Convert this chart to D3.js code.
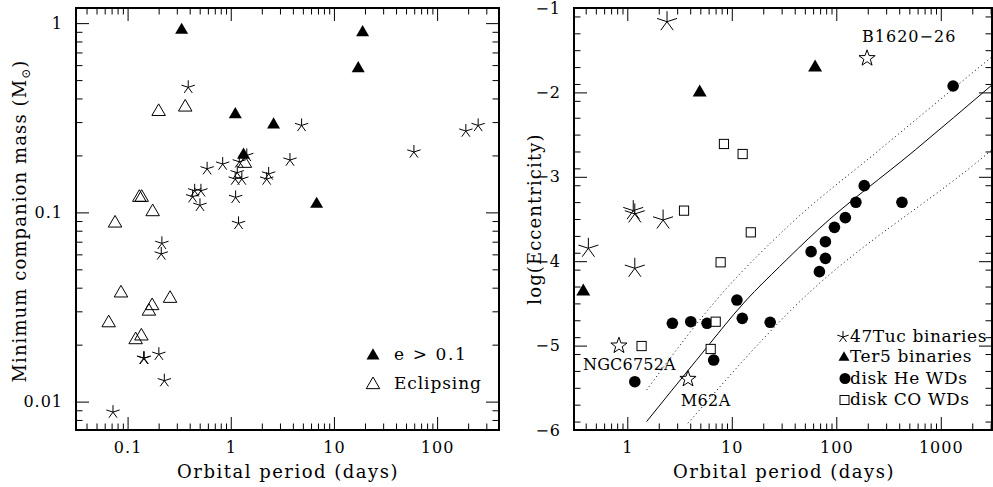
<!DOCTYPE html>
<html><head><meta charset="utf-8">
<script src="https://cdn.jsdelivr.net/npm/d3@7"></script>
<style>body{margin:0;background:#fff}</style>
</head><body>
<svg id="c" width="993" height="487" style="display:block;background:#fff"></svg>
<script>
// ---------------- DATA ----------------
// Left panel
const leftXTicks = [0.1, 1, 10, 100];
const leftXTickLabels = ["0.1", "1", "10", "100"];
const leftYTicks = [0.01, 0.1, 1];
const leftYTickLabels = ["0.01", "0.1", "1"];
// e > 0.1 (filled triangles)
const eccP = [0.334, 18.97, 17.2, 1.107, 2.60, 1.33, 6.8];
const eccM = [0.927, 0.90, 0.581, 0.332, 0.293, 0.203, 0.1116];
// Eclipsing (open triangles)
const eclP = [0.200, 0.362, 1.37, 0.137, 0.130, 0.175, 0.0756, 0.0863, 0.0656, 0.258, 0.173, 0.161, 0.136, 0.1197];
const eclM = [0.344, 0.363, 0.183, 0.121, 0.121, 0.1016, 0.0885, 0.0378, 0.0263, 0.0354, 0.0324, 0.0303, 0.0224, 0.0214];
// other binaries (asterisks)
const binP = [0.387, 4.86, 250, 190, 59.6, 1.43, 3.75, 0.835, 0.59, 1.21, 1.156, 1.105, 1.28, 2.33, 2.23, 1.115, 1.19, 0.447, 0.514, 0.427, 0.503, 0.215, 0.212, 0.143, 0.145, 0.201, 0.227, 0.0722];
const binM = [0.458, 0.288, 0.288, 0.269, 0.2085, 0.20, 0.189, 0.180, 0.170, 0.185, 0.162, 0.150, 0.150, 0.1596, 0.150, 0.120, 0.0875, 0.130, 0.130, 0.121, 0.109, 0.0686, 0.0603, 0.01695, 0.01695, 0.0178, 0.0129, 0.0088];
const leftLegend = ["e > 0.1", "Eclipsing"];

// Right panel
const rightXTicks = [1, 10, 100, 1000];
const rightXTickLabels = ["1", "10", "100", "1000"];
const rightYTicks = [-6, -5, -4, -3, -2, -1];
const rightYTickLabels = ["\u22126", "\u22125", "\u22124", "\u22123", "\u22122", "\u22121"];
const tucP = [2.40, 1.14, 1.18, 2.20, 0.424, 1.18];
const tucE = [-1.162, -3.401, -3.44, -3.512, -3.847, -4.084];
const ter5P = [4.93, 62.7, 0.379];
const ter5E = [-1.991, -1.695, -4.349];
const heP = [1312, 185, 154, 425, 122, 96, 78.7, 57.4, 78.7, 68.9, 11.2, 12.6, 2.70, 4.05, 5.80, 23.3, 6.71, 1.18];
const heE = [-1.924, -3.105, -3.302, -3.302, -3.484, -3.599, -3.769, -3.887, -3.966, -4.124, -4.460, -4.677, -4.736, -4.717, -4.736, -4.724, -5.171, -5.428];
const coP = [8.41, 12.7, 3.49, 15.2, 7.82, 7.01, 6.28, 1.37];
const coE = [-2.611, -2.730, -3.401, -3.658, -4.013, -4.717, -5.040, -5.005];
const psrNames = ["B1620\u221226", "NGC6752A", "M62A"];
const psrP = [197, 0.832, 3.81];
const psrE = [-1.596, -5.001, -5.396];
// relation and its band
const fitP = [1.53, 4.58, 13.8, 28.6, 66.4, 569, 3090];
const fitE = [-5.90, -5.174, -4.460, -4.065, -3.630, -2.682, -1.912];
const upperP = [1.53, 7.11, 35.6, 258, 3090];
const upperE = [-5.526, -4.460, -3.571, -2.682, -1.577];
const lowerP = [3.81, 39.8, 2692, 3090];
const lowerE = [-5.92, -4.539, -2.742, -2.68];
const rightLegend = ["47Tuc binaries", "Ter5 binaries", "disk He WDs", "disk CO WDs"];

// ---------------- DRAWING ----------------
const FONT = '"DejaVu Serif", "Liberation Serif", serif';
const FS = 16;
const svg = d3.select("#c");

function triPath(s) { // s = width
  const h = s * 0.86;
  return `M0,${-h*0.6}L${s/2},${h*0.4}L${-s/2},${h*0.4}Z`;
}
function asteriskPath(r) {
  let p = "";
  for (let k = 0; k < 5; k++) {
    const a = (-90 + 72 * k) * Math.PI / 180;
    p += `M0,0L${(r*Math.cos(a)).toFixed(2)},${(r*Math.sin(a)).toFixed(2)}`;
  }
  return p;
}
function starPath(R) {
  const r = R * 0.40;
  const pts = [];
  for (let k = 0; k < 10; k++) {
    const a = (-90 + 36 * k) * Math.PI / 180;
    const rr = k % 2 === 0 ? R : r;
    pts.push([rr*Math.cos(a), rr*Math.sin(a)]);
  }
  return "M" + pts.map(p => p[0].toFixed(2) + "," + p[1].toFixed(2)).join("L") + "Z";
}
function minorLog(domain) {
  const out = [];
  const lo = Math.floor(Math.log10(domain[0])), hi = Math.ceil(Math.log10(domain[1]));
  for (let e = lo; e <= hi; e++) for (let m = 2; m <= 9; m++) {
    const v = m * Math.pow(10, e);
    if (v >= domain[0] && v <= domain[1]) out.push(v);
  }
  return out;
}

function frameAxes(g, x, y, xT, xL, yT, yL, xMin, yMin) {
  const [xa, xb] = x.range();
  const [yb, ya] = y.range();
  function mk(fn, scale, vals, size, labels, tr) {
    const a = fn(scale).tickValues(vals).tickSizeInner(-size).tickSizeOuter(0);
    if (labels) a.tickFormat((d, i) => labels[i]).tickPadding(labels === yL ? 13 : 12);
    else a.tickFormat("");
    const ag = g.append("g").attr("transform", tr).call(a);
    ag.select(".domain").remove();
    ag.selectAll("line").attr("stroke", "#000").attr("stroke-width", 1);
    ag.selectAll("text").style("font-family", FONT).style("font-size", FS + "px")
      .style("letter-spacing", "1px").attr("fill", "#000");
    ag.attr("font-family", null).attr("font-size", null);
  }
  mk(d3.axisBottom, x, xT, 13, xL, `translate(0,${yb})`);
  mk(d3.axisBottom, x, xMin, 6.5, null, `translate(0,${yb})`);
  mk(d3.axisTop, x, xT, 13, null, `translate(0,${ya})`);
  mk(d3.axisTop, x, xMin, 6.5, null, `translate(0,${ya})`);
  mk(d3.axisLeft, y, yT, 13, yL, `translate(${xa},0)`);
  mk(d3.axisLeft, y, yMin, 6.5, null, `translate(${xa},0)`);
  mk(d3.axisRight, y, yT, 13, null, `translate(${xb},0)`);
  mk(d3.axisRight, y, yMin, 6.5, null, `translate(${xb},0)`);
  g.append("rect").attr("x", xa).attr("y", ya).attr("width", xb - xa).attr("height", yb - ya)
    .attr("fill", "none").attr("stroke", "#000").attr("stroke-width", 2);
}

function text(g, x, y, s, anchor, size, ls) {
  return g.append("text").attr("x", x).attr("y", y).attr("text-anchor", anchor || "start")
    .style("font-family", FONT).style("font-size", (size || FS) + "px")
    .style("letter-spacing", (ls == null ? 0.6 : ls) + "px").attr("fill", "#000").text(s);
}

// ---- Left panel ----
const L = svg.append("g");
const xL = d3.scaleLog().domain([Math.pow(10, -1.5), Math.pow(10, 2.6)]).range([76, 499]);
const yL = d3.scaleLog().domain([Math.pow(10, -2.15), Math.pow(10, 0.08)]).range([430, 8]);
frameAxes(L, xL, yL, leftXTicks, leftXTickLabels, leftYTicks, leftYTickLabels,
  minorLog(xL.domain()), minorLog(yL.domain()));

L.selectAll("path.bin").data(binP).join("path")
  .attr("transform", (d, i) => `translate(${xL(d)},${yL(binM[i])})`)
  .attr("d", asteriskPath(7)).attr("stroke", "#000").attr("stroke-width", 1).attr("fill", "none");
L.selectAll("path.ecl").data(eclP).join("path")
  .attr("transform", (d, i) => `translate(${xL(d)},${yL(eclM[i])})`)
  .attr("d", triPath(13.5)).attr("stroke", "#000").attr("stroke-width", 1).attr("fill", "none");
L.selectAll("path.ecc").data(eccP).join("path")
  .attr("transform", (d, i) => `translate(${xL(d)},${yL(eccM[i])})`)
  .attr("d", triPath(13)).attr("fill", "#000");

// legend left
L.append("path").attr("transform", "translate(373,355)").attr("d", triPath(13)).attr("fill", "#000");
text(L, 394, 360, leftLegend[0], "start", 17, 1.6);
L.append("path").attr("transform", "translate(373,384)").attr("d", triPath(13.5)).attr("fill", "none").attr("stroke", "#000");
text(L, 394, 389, leftLegend[1], "start", 17, 0.9);

// axis titles
text(L, 288, 478, "Orbital period (days)", "middle", 18, 1.5);
const yt = L.append("text").attr("transform", "translate(26,221) rotate(-90)").attr("text-anchor", "middle")
  .style("font-family", FONT).style("font-size", "18px").style("letter-spacing", "1.1px").attr("fill", "#000");
yt.append("tspan").text("Minimum companion mass (M");
yt.append("tspan").attr("font-size", "12px").attr("dy", 4).text("\u2299");
yt.append("tspan").attr("dy", -4).text(")");

// ---- Right panel ----
const R = svg.append("g");
const xR = d3.scaleLog().domain([Math.pow(10, -0.51), Math.pow(10, 3.49)]).range([574, 992]);
const yR = d3.scaleLinear().domain([-6, -1]).range([430, 8]);
const yRMinor = d3.range(-59, -10, 2).map(v => v / 10).filter(v => Math.abs(v - Math.round(v)) > 1e-6);
frameAxes(R, xR, yR, rightXTicks, rightXTickLabels, rightYTicks, rightYTickLabels,
  minorLog(xR.domain()), yRMinor);

svg.append("defs").append("clipPath").attr("id", "rc").append("rect")
  .attr("x", 574).attr("y", 8).attr("width", 418).attr("height", 422);
const line = d3.line().x(d => xR(d[0])).y(d => yR(d[1])).curve(d3.curveMonotoneX);
const lines = R.append("g").attr("clip-path", "url(#rc)");
lines.append("path").attr("d", line(fitP.map((p, i) => [p, fitE[i]])))
  .attr("fill", "none").attr("stroke", "#000").attr("stroke-width", 1);
lines.append("path").attr("d", line(upperP.map((p, i) => [p, upperE[i]])))
  .attr("fill", "none").attr("stroke", "#000").attr("stroke-width", 1).attr("stroke-dasharray", "1,3");
lines.append("path").attr("d", line(lowerP.map((p, i) => [p, lowerE[i]])))
  .attr("fill", "none").attr("stroke", "#000").attr("stroke-width", 1).attr("stroke-dasharray", "1,3");

R.selectAll("path.tuc").data(tucP).join("path")
  .attr("transform", (d, i) => `translate(${xR(d)},${yR(tucE[i])})`)
  .attr("d", asteriskPath(10.5)).attr("stroke", "#000").attr("stroke-width", 1).attr("fill", "none");
R.selectAll("path.ter").data(ter5P).join("path")
  .attr("transform", (d, i) => `translate(${xR(d)},${yR(ter5E[i])})`)
  .attr("d", triPath(14)).attr("fill", "#000");
R.selectAll("circle.he").data(heP).join("circle")
  .attr("cx", d => xR(d)).attr("cy", (d, i) => yR(heE[i])).attr("r", 5.8).attr("fill", "#000");
R.selectAll("rect.co").data(coP).join("rect")
  .attr("x", d => xR(d) - 4.6).attr("y", (d, i) => yR(coE[i]) - 4.6).attr("width", 9.2).attr("height", 9.2)
  .attr("fill", "#fff").attr("stroke", "#000").attr("stroke-width", 1);
R.selectAll("path.psr").data(psrP).join("path")
  .attr("transform", (d, i) => `translate(${xR(d)},${yR(psrE[i])})`)
  .attr("d", starPath(8.5)).attr("fill", "none").attr("stroke", "#000").attr("stroke-width", 1);
// pulsar names
const psrLabelDx = [-5, -36, -7.3];
const psrLabelDy = [-16.6, 24.3, 26.7];
const psrLabelLs = [1.0, 0.2, 0.4];
psrNames.forEach((n, i) => text(R, xR(psrP[i]) + psrLabelDx[i], yR(psrE[i]) + psrLabelDy[i], n, "start", 16, psrLabelLs[i]));

// legend right
const legY = [337, 357, 378.5, 400];
R.append("path").attr("transform", `translate(843,${legY[0]})`).attr("d", asteriskPath(6)).attr("stroke", "#000").attr("fill", "none");
R.append("path").attr("transform", `translate(844,${legY[1]})`).attr("d", triPath(11)).attr("fill", "#000");
R.append("circle").attr("cx", 845).attr("cy", legY[2]).attr("r", 5.5).attr("fill", "#000");
R.append("rect").attr("x", 840).attr("y", legY[3] - 4.5).attr("width", 9).attr("height", 9).attr("fill", "none").attr("stroke", "#000");
rightLegend.forEach((s, i) => text(R, 850, legY[i] + 5, s, "start", 17, 0.6));

text(R, 784, 478, "Orbital period (days)", "middle", 18, 1.5);
R.append("text").attr("transform", "translate(541,219) rotate(-90)").attr("text-anchor", "middle")
  .style("font-family", FONT).style("font-size", "18px").style("letter-spacing", "1.1px").attr("fill", "#000").text("log(Eccentricity)");
</script>
</body></html>
